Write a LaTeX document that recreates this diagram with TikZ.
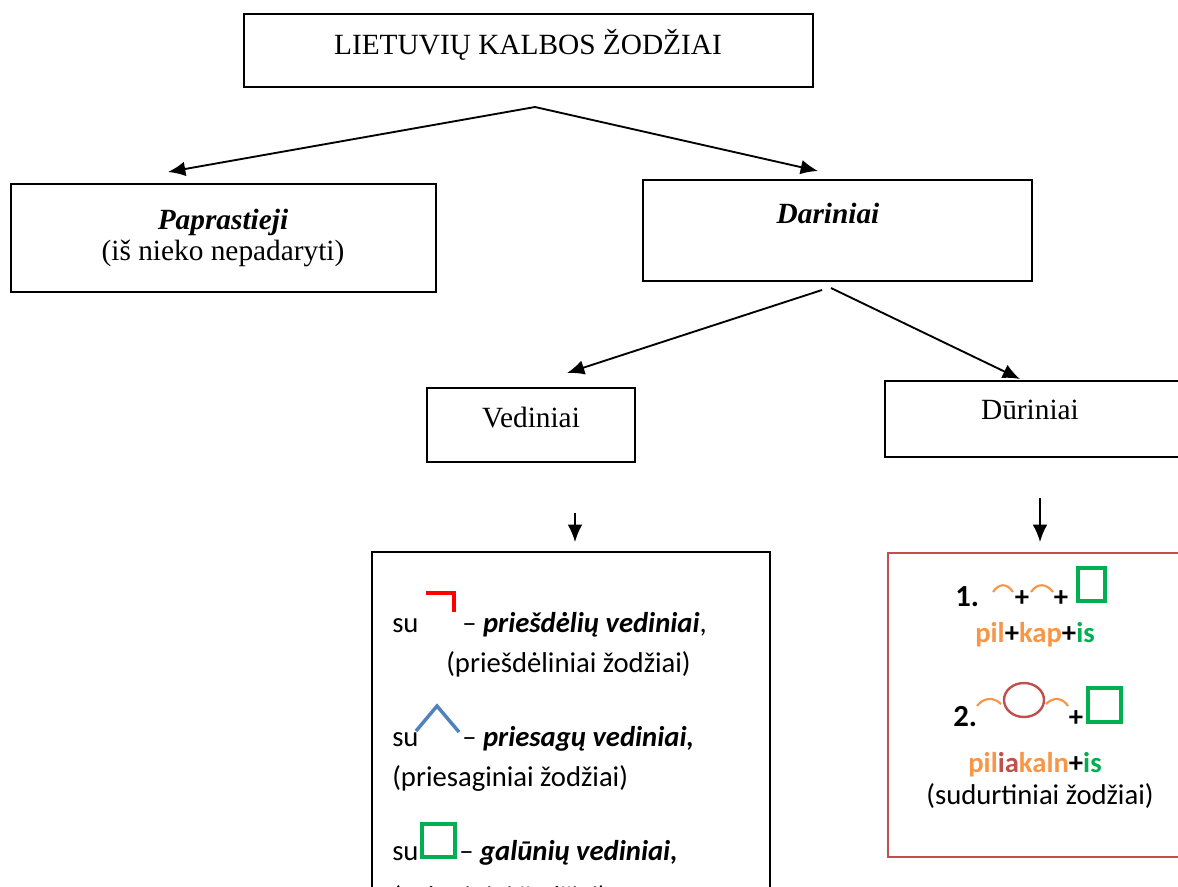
\documentclass[tikz,border=0pt]{standalone}
\usepackage{fontspec}
\setmainfont{Liberation Serif}
\newfontfamily\calfont{Carlito}
\usetikzlibrary{arrows.meta,fit}
\definecolor{orng}{HTML}{F79646}
\definecolor{grn}{HTML}{00B050}
\definecolor{blu}{HTML}{4F81BD}
\definecolor{brn}{HTML}{C0504D}
\begin{document}
\begin{tikzpicture}[x=0.75pt,y=-0.75pt,
  box/.style={draw, line width=1.8pt, inner sep=0pt},
  arr/.style={-{Latex[length=13pt,width=11pt]}, line width=1.4pt},
  tnr/.style={font=\fontsize{22}{26}\selectfont, inner sep=0pt},
  cal/.style={font=\calfont\fontsize{21.5}{26}\selectfont, inner sep=0pt, anchor=base west},
  calc/.style={font=\calfont\fontsize{21.5}{26}\selectfont, inner sep=0pt, anchor=base},
  symb/.style={line width=3pt},
  arc/.style={line width=1.6pt, orng}]
\useasboundingbox (0,0) rectangle (1178,886);
\clip (0,0) rectangle (1178,886);
% boxes
\node[box, fit={(244,14) (813,87)}] (top) {};
\node[tnr] (toptxt) at (528,45) {LIETUVIŲ KALBOS ŽODŽIAI};
\node[box, fit={(11,184) (436,292)}] (papr) {};
\node[tnr] (paprt) at (223,222) {\textbf{\textit{Paprastieji}}};
\node[tnr] (paprs) at (223,253) {(iš nieko nepadaryti)};
\node[box, fit={(643,180) (1032,281)}] (dar) {};
\node[tnr] (dart) at (828,213) {\textbf{\textit{Dariniai}}};
\node[box, fit={(427,388) (635,462)}] (ved) {};
\node[tnr] (vedt) at (531,418) {Vediniai};
\node[box, fit={(885,381) (1190,457)}] (dur) {};
\node[tnr] (durt) at (1030,410) {Dūriniai};
% connectors
\coordinate (s1) at (535,107);
\coordinate (e1) at (168,172);
\coordinate (e2) at (818,171);
\draw[arr] (s1) -- (e1);
\draw[arr] (s1) -- (e2);
\coordinate (s2) at (822,290);
\coordinate (s3) at (831,288);
\coordinate (e3) at (567,373);
\coordinate (e4) at (1020,379);
\draw[arr] (s2) -- (e3);
\draw[arr] (s3) -- (e4);
\coordinate (s4) at (575,513);
\coordinate (e5) at (575,542);
\coordinate (s5) at (1040,498);
\coordinate (e6) at (1040,542);
\draw[arr] (s4) -- (e5);
\draw[arr] (s5) -- (e6);
% vediniu box
\node[box, fit={(372,552) (770,910)}] (vedbox) {};
\node[cal] (su1) at (392,632) {su};
\draw[symb, red] (426,593) -- (454,593) -- (454,612);
\node[cal] (l1) at (462,632) {– \textbf{\textit{priešdėlių vediniai}},};
\node[cal] (l2) at (446,672) {(priešdėliniai žodžiai)};
\node[cal] (su2) at (392,746) {su};
\draw[symb, blu, line width=2.6pt] (416,731) -- (437,706) -- (459,732);
\node[cal] (l3) at (462,746) {– \textbf{\textit{priesagų vediniai,}}};
\node[cal] (l4) at (392,786) {(priesaginiai žodžiai)};
\node[cal] (su3) at (392,860) {su};
\draw[symb, grn] (422,824) rectangle (455,857);
\node[cal] (l5) at (459,860) {– \textbf{\textit{galūnių vediniai,}}};
\node[cal] (l6) at (392,906) {(galūniniai žodžiai)};
% durinių box
\node[draw=brn, line width=1.8pt, inner sep=0pt, fit={(888,553) (1190,857)}] (durbox) {};
\node[cal, font=\calfont\bfseries\fontsize{23}{26}\selectfont] (n1) at (955,606) {1.};
\draw[arc] (993,592) .. controls (999,583) and (1007,583) .. (1013,592);
\node[calc] (p1) at (1022,606) {\textbf{+}};
\draw[arc] (1031,592) .. controls (1037,583) and (1046,583) .. (1053,592);
\node[calc] (p2) at (1061,606) {\textbf{+}};
\draw[symb, grn] (1078,568) rectangle (1105,601);
\node[calc] (w1) at (1035,642) {\textbf{\textcolor{orng}{pil}+\textcolor{orng}{kap}+\textcolor{grn}{is}}};
\node[cal, font=\calfont\bfseries\fontsize{23}{26}\selectfont] (n2) at (953,726) {2.};
\draw[arc] (977,706) .. controls (984,697) and (994,697) .. (1001,704);
\draw[line width=1.8pt, brn] (1024,700) ellipse [x radius=20, y radius=17];
\draw[arc] (1046,704) .. controls (1053,697) and (1062,697) .. (1068,706);
\node[calc] (p3) at (1076,726) {\textbf{+}};
\draw[symb, grn] (1088,688) rectangle (1121,722);
\node[calc] (w2) at (1035,772) {\textbf{\textcolor{orng}{pil}\textcolor{brn}{ia}\textcolor{orng}{kaln}+\textcolor{grn}{is}}};
\node[calc] (l7) at (1040,804) {(sudurtiniai žodžiai)};
\end{tikzpicture}
\end{document}
